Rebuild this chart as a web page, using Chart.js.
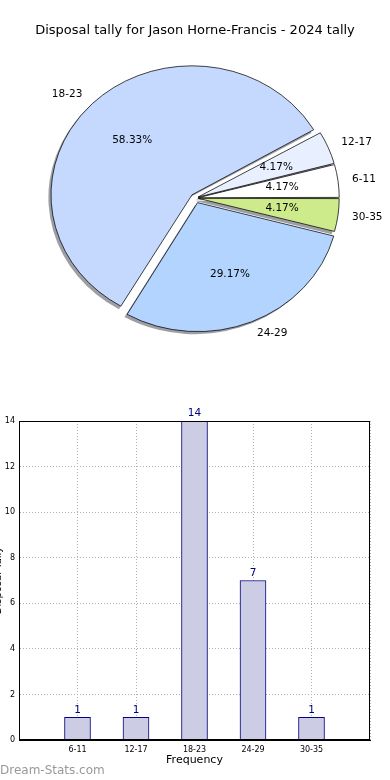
<!DOCTYPE html>
<html>
<head>
<meta charset="utf-8">
<script src="https://cdn.jsdelivr.net/npm/chart.js@4.4.1/dist/chart.umd.min.js"></script>
<style>
  body { margin: 0; width: 390px; height: 780px; background: #fff; position: relative; overflow: hidden; font-family: 'DejaVu Sans', sans-serif; }
  #title { position: absolute; top: 22px; left: 0; width: 390px; text-align: center; font-size: 13px; color: #000; z-index: 2; }
  #pieBox { position: absolute; left: 0; top: 0; width: 391px; height: 396px; }
  #barBox { position: absolute; left: 0; top: 400px; width: 390px; height: 380px; }
  #mark { position: absolute; left: 0; top: 763px; font-size: 12px; color: #999; }
</style>
</head>
<body>
<div id="title">Disposal tally for Jason Horne-Francis - 2024 tally</div>
<div id="pieBox"><canvas id="pieChart"></canvas></div>
<div id="barBox"><canvas id="barChart"></canvas></div>
<div id="mark">Dream-Stats.com</div>

<script>
// data
const categories = ['6-11', '12-17', '18-23', '24-29', '30-35'];
const tallies    = [1, 1, 14, 7, 1];
const sliceColors = ['#ffffff', '#e8f0ff', '#c5d9ff', '#b3d4ff', '#cdeb8b'];
const explode    = [2.5, 2.5, 4.5, 5, 2.5];
const yTicks     = [0, 2, 4, 6, 8, 10, 12, 14];

const FONT = "'DejaVu Sans', sans-serif";
const R = 129, SX = 141 / 129;   // pie is drawn a bit wider than tall

// chart.js goes clockwise, the original goes counter-clockwise, so reverse
const pieLabels = categories.slice().reverse();
const pieValues = tallies.slice().reverse();
const pieColors = sliceColors.slice().reverse();
const pieExplode = explode.slice().reverse();
const total = tallies.reduce((a, b) => a + b, 0);

const pieExtras = {
    id: 'pieExtras',
    beforeDatasetsDraw(chart) {
        const ctx = chart.ctx, a = chart.chartArea;
        const cx = (a.left + a.right) / 2, cy = (a.top + a.bottom) / 2;
        const arcs = chart.getDatasetMeta(0).data;
        ctx.save();
        ctx.translate(cx, cy); ctx.scale(SX, 1); ctx.translate(-cx, -cy);
        arcs.forEach((arc, i) => {
            const mid = (arc.startAngle + arc.endAngle) / 2;
            const d = pieExplode[i];
            const x = arc.x + Math.cos(mid) * d - 2.4, y = arc.y + Math.sin(mid) * d + 2.6;
            ctx.beginPath();
            ctx.moveTo(x, y);
            ctx.arc(x, y, R, arc.startAngle, arc.endAngle);
            ctx.closePath();
            ctx.fillStyle = 'rgba(60,64,75,0.5)';
            ctx.fill();
            // chart.js grows the radius with the offset, undo that
            const fix = 1 - Math.sin(Math.min(Math.PI, arc.endAngle - arc.startAngle));
            arc.outerRadius = R - d * fix;
        });
    },
    afterDatasetsDraw(chart) {
        const ctx = chart.ctx, a = chart.chartArea;
        ctx.restore();
        const cx = (a.left + a.right) / 2;
        const arcs = chart.getDatasetMeta(0).data;
        ctx.save();
        ctx.fillStyle = '#000';
        ctx.font = '10.5px ' + FONT;
        ctx.textBaseline = 'middle';
        arcs.forEach((arc, i) => {
            const mid = (arc.startAngle + arc.endAngle) / 2;
            const d = pieExplode[i];
            const ox = cx + SX * (arc.x - cx + Math.cos(mid) * d), oy = arc.y + Math.sin(mid) * d;
            ctx.textAlign = 'center';
            ctx.fillText((pieValues[i] / total * 100).toFixed(2) + '%',
                ox + Math.cos(mid) * 0.6 * R * SX, oy + Math.sin(mid) * 0.6 * R);
            ctx.textAlign = Math.cos(mid) < 0 ? 'right' : 'left';
            ctx.fillText(pieLabels[i], ox + Math.cos(mid) * 1.1 * R * SX, oy + Math.sin(mid) * 1.1 * R);
        });
        ctx.restore();
    }
};

new Chart(document.getElementById('pieChart').getContext('2d'), {
    type: 'pie',
    data: {
        labels: pieLabels,
        datasets: [{ data: pieValues, backgroundColor: pieColors, borderColor: '#000', borderWidth: 0.7, offset: pieExplode.map(d => d * 4) }]
    },
    options: {
        responsive: true, maintainAspectRatio: false, animation: false, events: [],
        rotation: 90, radius: R,
        layout: { padding: 0 },
        plugins: { legend: { display: false }, tooltip: { enabled: false } }
    },
    plugins: [pieExtras]
});

const barExtras = {
    id: 'barExtras',
    afterDatasetsDraw(chart) {
        const ctx = chart.ctx;
        ctx.save();
        ctx.fillStyle = '#000080';
        ctx.font = '10.5px ' + FONT;
        ctx.textAlign = 'center';
        ctx.textBaseline = 'bottom';
        chart.getDatasetMeta(0).data.forEach((bar, i) => {
            const v = chart.data.datasets[0].data[i];
            if (v == null) return;
            ctx.fillText(String(v), bar.x, bar.y - 2);
        });
        ctx.restore();
    },
    afterDraw(chart) {
        const ctx = chart.ctx, a = chart.chartArea;
        ctx.save();
        ctx.setLineDash([]);
        ctx.strokeStyle = '#000';
        ctx.lineWidth = 1;
        ctx.strokeRect(Math.round(a.left) + 0.5, Math.round(a.top) + 0.5, Math.round(a.right - a.left) - 1, Math.round(a.bottom - a.top) - 1);
        ctx.fillStyle = '#000';
        ctx.font = '11px ' + FONT;
        ctx.textAlign = 'center';
        ctx.textBaseline = 'middle';
        ctx.fillText('Frequency', (a.left + a.right) / 2, 360);
        ctx.font = '10px ' + FONT;
        ctx.translate(-2, (a.top + a.bottom) / 2);
        ctx.rotate(-Math.PI / 2);
        ctx.fillText('Disposal Tally', 0, 0);
        ctx.restore();
    }
};

new Chart(document.getElementById('barChart').getContext('2d'), {
    type: 'bar',
    data: {
        labels: ['', ...categories, ''],
        datasets: [{ data: [null, ...tallies, null], backgroundColor: '#ccccE5', borderColor: '#000080', borderWidth: 1, barThickness: 26 }]
    },
    options: {
        responsive: true, maintainAspectRatio: false, animation: false, events: [],
        layout: { padding: { top: 21, right: 20, left: 0, bottom: 0 } },
        plugins: { legend: { display: false }, tooltip: { enabled: false } },
        scales: {
            x: {
                offset: false, z: 1,
                grid: { offset: false, color: '#b0b0b0', drawTicks: false },
                border: { color: '#000', dash: [1, 2] },
                ticks: { font: { family: FONT, size: 8 }, color: '#000', padding: 5, maxRotation: 0 },
                afterFit(s) { s.height = 40; }
            },
            y: {
                min: 0, max: 14, z: 1,
                afterBuildTicks(s) { s.ticks = yTicks.map(v => ({ value: v })); },
                grid: { color: '#b0b0b0', drawTicks: false },
                border: { color: '#000', dash: [1, 2] },
                ticks: { font: { family: FONT, size: 8 }, color: '#000', padding: 4 },
                afterFit(s) { s.width = 19; }
            }
        }
    },
    plugins: [barExtras]
});
</script>
</body>
</html>
